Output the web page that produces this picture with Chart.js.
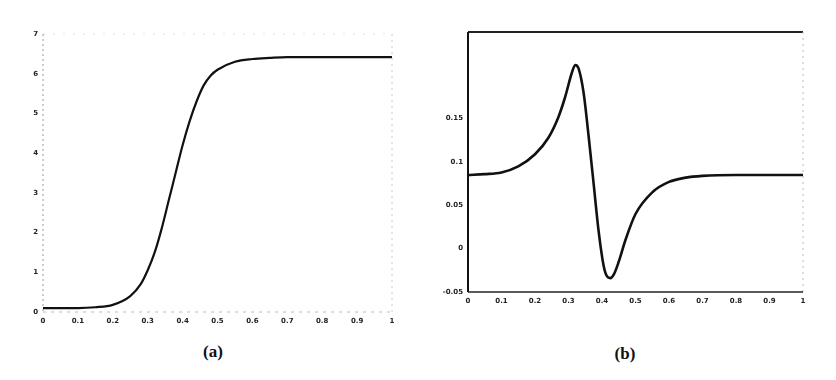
<!DOCTYPE html>
<html><head><meta charset="utf-8">
<script src="https://cdn.jsdelivr.net/npm/chart.js@4"></script>
<style>
html,body{margin:0;padding:0;background:#fff;width:836px;height:380px;overflow:hidden;position:relative}
.cv{position:absolute;top:0}
.cap{position:absolute;font-family:"Liberation Serif","DejaVu Serif",serif;font-weight:bold;font-size:17px;color:#111;transform:translateX(-50%)}
</style></head><body>
<div class="cv" style="left:0;width:418px;height:340px"><canvas id="ca"></canvas></div>
<div class="cv" style="left:418px;width:418px;height:340px"><canvas id="cb"></canvas></div>
<div class="cap" style="left:213px;top:342px">(a)</div>
<div class="cap" style="left:625px;top:344px">(b)</div>
<script>
// ---- data ----
const xA = [0,0.05,0.1,0.15,0.2,0.25,0.28,0.3,0.32,0.34,0.36,0.38,0.4,0.42,0.44,0.46,0.48,0.5,0.55,0.6,0.65,0.7,0.8,0.9,1];
const yA = [0.1,0.1,0.1,0.12,0.18,0.4,0.7,1.05,1.5,2.1,2.8,3.5,4.2,4.8,5.3,5.7,5.95,6.1,6.3,6.37,6.4,6.42,6.42,6.42,6.42];
const xB = [0,0.05,0.1,0.15,0.2,0.24,0.27,0.29,0.31,0.32,0.33,0.345,0.36,0.375,0.39,0.405,0.415,0.425,0.435,0.45,0.47,0.5,0.55,0.6,0.65,0.7,0.8,0.9,1];
const yB = [0.085,0.086,0.088,0.095,0.109,0.128,0.152,0.175,0.203,0.212,0.208,0.18,0.13,0.075,0.02,-0.02,-0.032,-0.034,-0.03,-0.015,0.01,0.04,0.065,0.077,0.082,0.084,0.085,0.085,0.085];
const xTickLabels = ['0','0.1','0.2','0.3','0.4','0.5','0.6','0.7','0.8','0.9','1'];
const yTickLabelsA = ['0','1','2','3','4','5','6','7'];
const yTickLabelsB = ['-0.05','0','0.05','0.1','0.15','',''];

const tickFont = {family:'DejaVu Sans', size:7, weight:'bold'};

const framePlugin = {
  id:'frame',
  afterDraw(chart, args, o){
    const {ctx, chartArea:{left,right,top,bottom}} = chart;
    ctx.save();
    const side = (s, x1,y1,x2,y2)=>{
      ctx.beginPath(); ctx.strokeStyle=s.c; ctx.lineWidth=s.w; ctx.setLineDash(s.d||[]);
      ctx.moveTo(x1,y1); ctx.lineTo(x2,y2); ctx.stroke();
    };
    side(o.top, left,top,right,top);
    side(o.right, right,top,right,bottom);
    side(o.bottom, left,bottom,right,bottom);
    side(o.left, left,top,left,bottom);
    ctx.restore();
  }
};

function makeChart(id, xs, ys, yMin, yMax, yStep, yLabels, pad, yW, xH, frame, lw){
  return new Chart(document.getElementById(id), {
    type:'line',
    data:{datasets:[{data: xs.map((x,i)=>({x, y: ys[i]})), borderColor:'#111', borderWidth:lw, pointRadius:0, cubicInterpolationMode:'monotone', fill:false}]},
    options:{
      responsive:true, maintainAspectRatio:false, animation:false,
      layout:{padding:pad},
      plugins:{legend:{display:false}, tooltip:{enabled:false}, frame},
      scales:{
        x:{type:'linear', min:0, max:1,
           ticks:{stepSize:0.1, font:tickFont, color:'#222', padding:2, maxRotation:0, autoSkip:false,
                  callback:(v,i)=>xTickLabels[i]},
           grid:{display:false, drawTicks:true, tickLength:3}, border:{display:false},
           afterFit:s=>{s.height=xH;}},
        y:{min:yMin, max:yMax,
           ticks:{stepSize:yStep, font:tickFont, color:'#222', padding:2, autoSkip:false,
                  callback:(v,i)=>yLabels[i]},
           grid:{display:false, tickLength:3}, border:{display:false},
           afterFit:s=>{s.width=yW;}}
      }
    },
    plugins:[framePlugin]
  });
}

makeChart('ca', xA, yA, 0, 7, 1, yTickLabelsA, {top:34,right:26,left:0,bottom:0}, 43, 28,
  {top:{c:'#e2e2e2',w:1,d:[2,8]}, right:{c:'#ccc',w:1,d:[2,4]}, bottom:{c:'#bbb',w:1,d:[3,5]}, left:{c:'#999',w:1,d:[2,3]}}, 2.2);
makeChart('cb', xB, yB, -0.05, 0.25, 0.05, yTickLabelsB, {top:32,right:33,left:0,bottom:0}, 50, 48,
  {top:{c:'#222',w:2,d:[]}, right:{c:'#bbb',w:1,d:[2,4]}, bottom:{c:'#222',w:1.6,d:[]}, left:{c:'#111',w:2,d:[]}}, 2.6);
</script>
</body></html>
